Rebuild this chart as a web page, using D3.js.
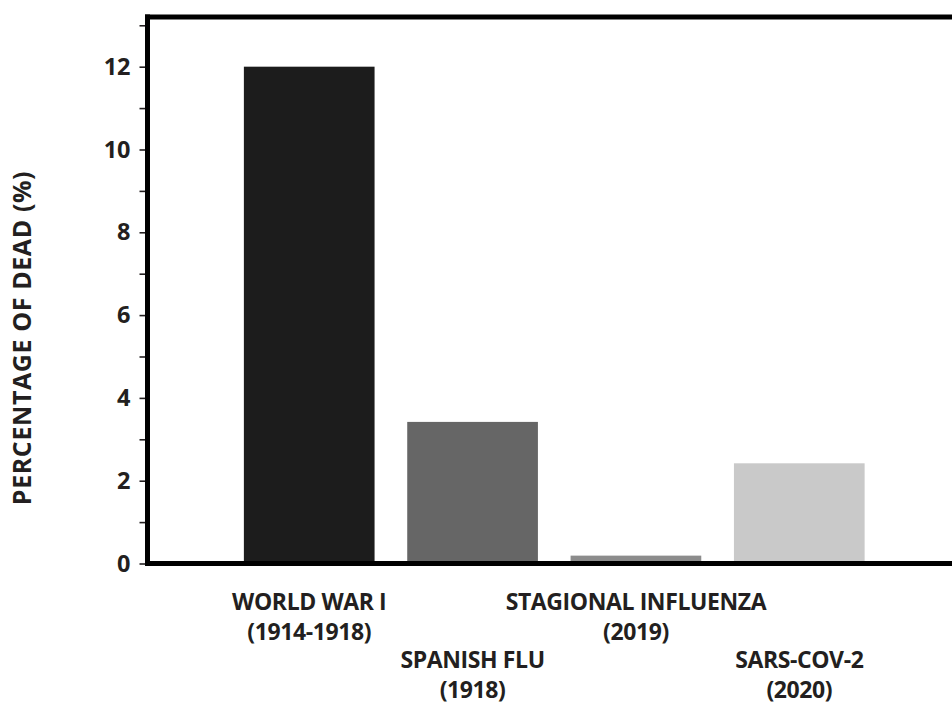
<!DOCTYPE html>
<html><head><meta charset="utf-8">
<script src="https://cdn.jsdelivr.net/npm/d3@7"></script>
<style>
html,body{margin:0;padding:0;background:#fff;}
text{font-family:"Open Sans","Noto Sans",sans-serif;font-weight:700;fill:#231f20;}
</style></head>
<body><svg id="c" width="952" height="704"></svg>
<script>
const categories = ["WORLD WAR I", "SPANISH FLU", "STAGIONAL INFLUENZA", "SARS-COV-2"];
const periods = ["(1914-1918)", "(1918)", "(2019)", "(2020)"];
const values = [12, 3.42, 0.19, 2.42];
const colors = ["#1c1c1c", "#666666", "#8c8c8c", "#c9c9c9"];
const yTicks = [0,1,2,3,4,5,6,7,8,9,10,11,12,13];
const yTickLabels = [0,2,4,6,8,10,12];
const yTitle = "PERCENTAGE OF DEAD (%)";

(function(){
const svg = d3.select("#c");
const W = 952;
const mLeft = 147.5, mTop = 17, mBottom = 563.5;

const x = d3.scaleBand().domain(categories).range([mLeft, 961]).paddingInner(0.2).paddingOuter(0.59);
const y = d3.scaleLinear().domain([0, 13.2]).range([mBottom, mTop]);

svg.append("g").selectAll("rect").data(categories).join("rect")
  .attr("x", d => x(d)).attr("width", x.bandwidth())
  .attr("y", (d,i) => y(values[i])).attr("height", (d,i) => y(0) - y(values[i]))
  .attr("fill", (d,i) => colors[i]);

const ax = d3.axisLeft(y).tickValues(yTicks).tickSize(8).tickPadding(9)
  .tickFormat(d => yTickLabels.includes(d) ? d : "");
const g = svg.append("g").attr("transform", `translate(${mLeft},0)`).call(ax);
g.select(".domain").remove();
g.attr("font-family", null);
g.selectAll(".tick line").attr("stroke", "#231f20").attr("stroke-width", 1.6);
g.selectAll(".tick text").style("font-size", "23.5px").attr("fill", "#231f20");

svg.append("line").attr("x1", mLeft - 2.5).attr("x2", W).attr("y1", mTop).attr("y2", mTop).attr("stroke", "#000").attr("stroke-width", 5);
svg.append("line").attr("x1", mLeft).attr("x2", mLeft).attr("y1", mTop - 2.5).attr("y2", mBottom + 2.5).attr("stroke", "#000").attr("stroke-width", 5);
svg.append("line").attr("x1", mLeft - 2.5).attr("x2", W).attr("y1", mBottom).attr("y2", mBottom).attr("stroke", "#000").attr("stroke-width", 5);

const baseRow = [610, 668, 610, 668];
const cx = d => x(d) + x.bandwidth() / 2;
const lab = svg.append("g").selectAll("g").data(categories).join("g");
lab.append("text").attr("x", cx).attr("y", (d,i) => baseRow[i])
  .attr("text-anchor", "middle").style("font-size", "23px").style("letter-spacing", "-0.4px").text(d => d);
lab.append("text").attr("x", cx).attr("y", (d,i) => baseRow[i] + 30)
  .attr("text-anchor", "middle").style("font-size", "23px").style("letter-spacing", "-0.4px").text((d,i) => periods[i]);

svg.append("text").attr("transform", `translate(31,338) rotate(-90)`)
  .attr("text-anchor", "middle").style("font-size", "25px").style("letter-spacing", "0.6px").text(yTitle);
})();
</script></body></html>
